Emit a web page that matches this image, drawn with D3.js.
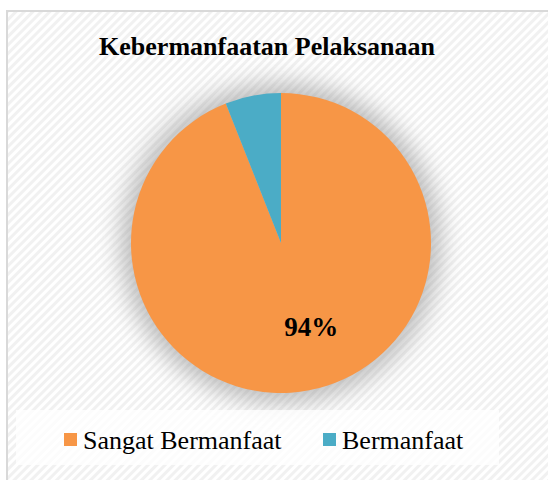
<!DOCTYPE html>
<html>
<head>
<meta charset="utf-8">
<script src="https://cdn.jsdelivr.net/npm/d3@7"></script>
<style>
  body { margin: 0; background: #fff; }
  svg { display: block; }
</style>
</head>
<body>
<div id="container"></div>
<script>
/* DATA */
const categories = ["Sangat Bermanfaat", "Bermanfaat"];
const values = [94, 6];
const colors = ["#f79646", "#4bacc6"];
const title = "Kebermanfaatan Pelaksanaan";

const width = 548, height = 480;
const cx = 281, cy = 243, radius = 150;

const svg = d3.select("#container")
  .append("svg")
  .attr("width", width)
  .attr("height", height);

const defs = svg.append("defs");

// fine diagonal hatch like the Excel chart area fill
const pat = defs.append("pattern")
  .attr("id", "hatch")
  .attr("patternUnits", "userSpaceOnUse")
  .attr("width", 6)
  .attr("height", 6)
  .attr("patternTransform", "rotate(45)");
pat.append("rect").attr("width", 6).attr("height", 6).attr("fill", "#ffffff");
pat.append("rect").attr("width", 3).attr("height", 6).attr("fill", "#f1f1f1");

const blur = defs.append("filter")
  .attr("id", "glow")
  .attr("x", "-50%").attr("y", "-50%")
  .attr("width", "200%").attr("height", "200%");
blur.append("feGaussianBlur").attr("stdDeviation", 12);

// chart area
svg.append("rect")
  .attr("x", 7).attr("y", 11)
  .attr("width", width).attr("height", height)
  .attr("fill", "url(#hatch)")
  .attr("stroke", "#d9d9d9")
  .attr("stroke-width", 2);

// title
svg.append("text")
  .attr("x", 267)
  .attr("y", 55)
  .attr("text-anchor", "middle")
  .attr("font-family", "'Liberation Serif', 'Times New Roman', serif")
  .attr("font-weight", "bold")
  .attr("font-size", 26)
  .attr("fill", "#000")
  .text(title);

// soft shadow behind pie
svg.append("circle")
  .attr("cx", cx).attr("cy", cy)
  .attr("r", radius + 10)
  .attr("fill", "#8a8a8a")
  .attr("opacity", 0.55)
  .attr("filter", "url(#glow)");

const pie = d3.pie().sort(null).value(d => d);
const arc = d3.arc().innerRadius(0).outerRadius(radius);
const arcs = pie(values);

const g = svg.append("g").attr("transform", `translate(${cx},${cy})`);

g.selectAll("path")
  .data(arcs)
  .join("path")
  .attr("d", arc)
  .attr("fill", (d, i) => colors[i]);

// data label (only the large slice is labelled)
const labelArc = d3.arc().innerRadius(radius * 0.65).outerRadius(radius * 0.65);
g.append("text")
  .attr("transform", () => {
    const c = labelArc.centroid(arcs[0]);
    return `translate(${c[0] + 12},${c[1] - 3})`;
  })
  .attr("text-anchor", "middle")
  .attr("font-family", "'Liberation Serif', 'Times New Roman', serif")
  .attr("font-weight", "bold")
  .attr("font-size", 27)
  .attr("fill", "#000")
  .text(values[0] + "%");

// legend
svg.append("rect")
  .attr("x", 16).attr("y", 410)
  .attr("width", 483).attr("height", 55)
  .attr("fill", "#ffffff")
  .attr("opacity", 0.75);

const legendX = [64, 323];
const legend = svg.selectAll(".legend")
  .data(categories)
  .join("g")
  .attr("class", "legend")
  .attr("transform", (d, i) => `translate(${legendX[i]},433)`);

legend.append("rect")
  .attr("width", 13).attr("height", 13)
  .attr("fill", (d, i) => colors[i]);

legend.append("text")
  .attr("x", 19)
  .attr("y", 16)
  .attr("font-family", "'Liberation Serif', 'Times New Roman', serif")
  .attr("font-size", 26)
  .attr("fill", "#000")
  .text(d => d);
</script>
</body>
</html>
